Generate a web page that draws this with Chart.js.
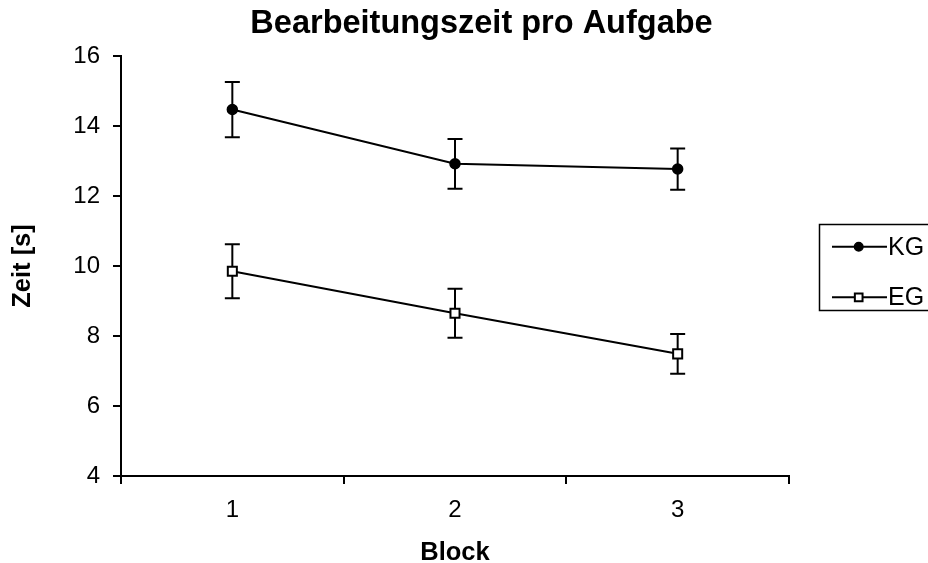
<!DOCTYPE html>
<html>
<head>
<meta charset="utf-8">
<script src="https://cdn.jsdelivr.net/npm/chart.js@4.4.1/dist/chart.umd.min.js"></script>
<style>
  html, body { margin: 0; padding: 0; background: #fff; }
  #wrap { width: 928px; height: 563px; }
</style>
</head>
<body>
<div id="wrap"><canvas id="chart"></canvas></div>
<script>
// Daten
const blocks = ['1', '2', '3'];
const kgZeit = [14.47, 12.92, 12.77];
const kgFehler = [0.79, 0.71, 0.59];
const egZeit = [9.85, 8.65, 7.49];
const egFehler = [0.77, 0.70, 0.57];
const yTicks = [4, 6, 8, 10, 12, 14, 16];

const schrift = '"Liberation Sans", Arial, sans-serif';

// Fehlerbalken unter den Punkten zeichnen
const errorBars = {
  id: 'errorBars',
  beforeDatasetsDraw(chart) {
    const ctx = chart.ctx;
    const y = chart.scales.y;
    ctx.save();
    ctx.strokeStyle = '#000';
    ctx.lineWidth = 2;
    chart.data.datasets.forEach((ds, i) => {
      const meta = chart.getDatasetMeta(i);
      meta.data.forEach((pt, j) => {
        const oben = y.getPixelForValue(ds.data[j] + ds.fehler[j]);
        const unten = y.getPixelForValue(ds.data[j] - ds.fehler[j]);
        ctx.beginPath();
        ctx.moveTo(pt.x, oben);
        ctx.lineTo(pt.x, unten);
        ctx.moveTo(pt.x - 7.5, oben);
        ctx.lineTo(pt.x + 7.5, oben);
        ctx.moveTo(pt.x - 7.5, unten);
        ctx.lineTo(pt.x + 7.5, unten);
        ctx.stroke();
      });
    });
    ctx.restore();
  }
};

// Legende im Excel-Stil (rechts, angeschnitten)
const legende = {
  id: 'legende',
  afterDraw(chart) {
    const ctx = chart.ctx;
    ctx.save();
    ctx.strokeStyle = '#000';
    ctx.lineWidth = 1.5;
    ctx.strokeRect(819.5, 224.5, 140, 86);
    const zeilen = [246.7, 297.3];
    chart.data.datasets.forEach((ds, i) => {
      const yy = zeilen[i];
      ctx.lineWidth = 2;
      ctx.strokeStyle = '#000';
      ctx.beginPath();
      ctx.moveTo(832, yy);
      ctx.lineTo(887, yy);
      ctx.stroke();
      ctx.fillStyle = ds.pointBackgroundColor;
      ctx.strokeStyle = ds.pointBorderColor;
      ctx.lineWidth = ds.pointBorderWidth;
      Chart.helpers.drawPoint(ctx, {
        pointStyle: ds.pointStyle,
        radius: ds.pointRadius * 0.85,
        rotation: 0,
        borderWidth: ds.pointBorderWidth
      }, 858.7, yy);
      ctx.fillStyle = '#000';
      ctx.font = '25px ' + schrift;
      ctx.textBaseline = 'middle';
      ctx.textAlign = 'left';
      ctx.fillText(ds.label, 888, yy + 1);
    });
    ctx.restore();
  }
};

const chart = new Chart(document.getElementById('chart'), {
  type: 'line',
  data: {
    labels: blocks,
    datasets: [
      {
        label: 'KG',
        data: kgZeit,
        fehler: kgFehler,
        borderColor: '#000',
        borderWidth: 2,
        pointStyle: 'circle',
        pointRadius: 5,
        pointBorderWidth: 1.5,
        pointBackgroundColor: '#000',
        pointBorderColor: '#000',
        tension: 0
      },
      {
        label: 'EG',
        data: egZeit,
        fehler: egFehler,
        borderColor: '#000',
        borderWidth: 2,
        pointStyle: 'rect',
        pointRadius: 6.4,
        pointBorderWidth: 2,
        pointBackgroundColor: '#fff',
        pointBorderColor: '#000',
        tension: 0
      }
    ]
  },
  options: {
    responsive: true,
    maintainAspectRatio: false,
    animation: false,
    layout: { padding: { left: 0, right: -35, top: 0, bottom: 0 } },
    plugins: {
      legend: { display: false },
      tooltip: { enabled: false },
      title: {
        display: true,
        text: 'Bearbeitungszeit pro Aufgabe',
        color: '#000',
        font: { family: schrift, size: 32.5, weight: 'bold', lineHeight: 1.2 },
        padding: { top: 5, bottom: 12 }
      }
    },
    scales: {
      x: {
        offset: true,
        grid: { offset: true, drawOnChartArea: false, color: '#000', lineWidth: 2, tickLength: 8 },
        border: { color: '#000', width: 2 },
        ticks: { color: '#000', padding: 12, font: { family: schrift, size: 24 } },
        title: {
          display: true,
          text: 'Block',
          color: '#000',
          font: { family: schrift, size: 25.5, weight: 'bold', lineHeight: 0.8 },
          padding: 0
        },
        afterFit(scale) { scale.height = 87; }
      },
      y: {
        min: yTicks[0],
        max: yTicks[yTicks.length - 1],
        afterBuildTicks(scale) { scale.ticks = yTicks.map(v => ({ value: v })); },
        grid: { drawOnChartArea: false, color: '#000', lineWidth: 2, tickLength: 8 },
        border: { color: '#000', width: 2 },
        ticks: { color: '#000', padding: 13, font: { family: schrift, size: 24 } },
        title: {
          display: true,
          text: 'Zeit [s]',
          color: '#000',
          font: { family: schrift, size: 25.5, weight: 'bold', lineHeight: 1.2 },
          padding: { top: 7.7, bottom: 0 }
        },
        afterFit(scale) { scale.width = 121; }
      },
      rechts: {
        position: 'right',
        display: true,
        grid: { display: false },
        border: { display: false },
        ticks: { display: false },
        afterFit(scale) { scale.width = 928 + 35 - 789; }
      }
    }
  },
  plugins: [errorBars, legende]
});
</script>
</body>
</html>
